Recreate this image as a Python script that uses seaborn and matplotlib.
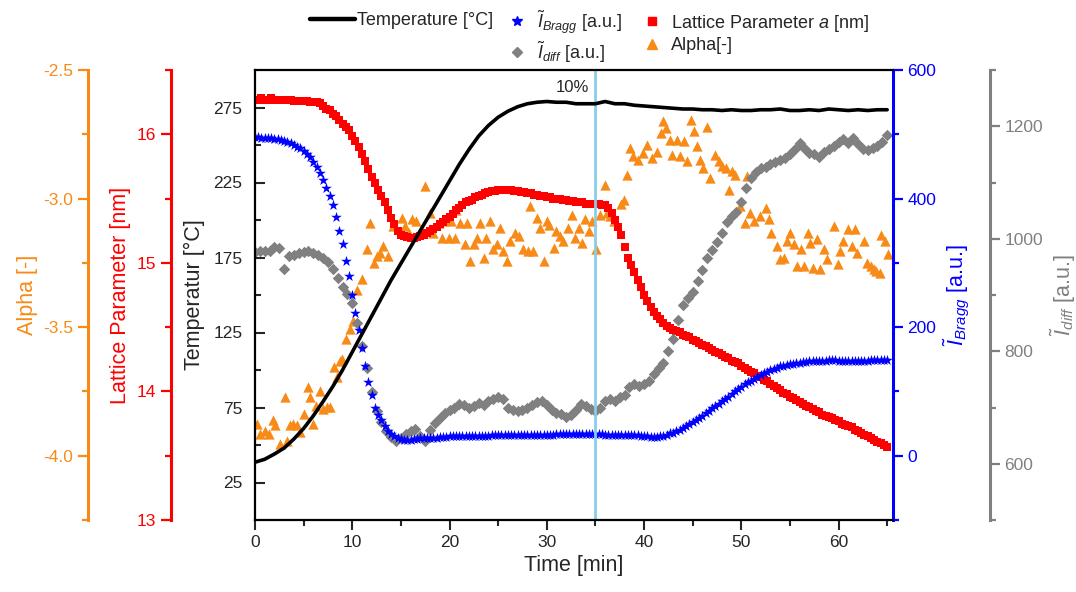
import numpy as np
import matplotlib
matplotlib.use("Agg")
import matplotlib.pyplot as plt
import seaborn as sns
from matplotlib.ticker import MultipleLocator, FixedLocator, FormatStrFormatter
from matplotlib.lines import Line2D

# ---------------- data ----------------
# furnace temperature, one reading per minute
time_temp = list(range(66))
temperature = [
    38.5, 40.5, 44, 48, 54, 61, 69.5, 79, 89, 100,
    112, 124, 136, 148, 160, 171, 182, 193, 204, 215,
    226, 237, 247, 256, 263, 268.5, 272.5, 275.5, 277.5, 278.5,
    279, 278.5, 278.5, 277.5, 277.5, 277.5, 279, 277.5, 277.5, 276.5,
    276, 275.5, 275, 274.5, 274, 274, 273.5, 273.5, 273, 273.5,
    273, 273, 273.5, 273.5, 274, 273, 273, 273.5, 273, 274,
    273.5, 273, 273.5, 273, 273.5, 273.5,
]

# lattice parameter and Bragg intensity, sampled every 20 s
time_fine = np.arange(196) / 3.0
lattice = [
    16.27, 16.27, 16.28, 16.27, 16.27, 16.28, 16.27, 16.27, 16.27, 16.27, 16.27, 16.27, 16.26, 16.26, 16.26,
    16.26, 16.26, 16.25, 16.25, 16.25, 16.24, 16.22, 16.20, 16.19, 16.16, 16.14, 16.11, 16.08, 16.06, 16.03,
    15.99, 15.95, 15.90, 15.85, 15.79, 15.73, 15.67, 15.62, 15.57, 15.52, 15.47, 15.41, 15.35, 15.30, 15.25,
    15.22, 15.21, 15.20, 15.19, 15.19, 15.20, 15.21, 15.22, 15.23, 15.25, 15.26, 15.28, 15.30, 15.32, 15.34,
    15.36, 15.38, 15.41, 15.43, 15.45, 15.47, 15.48, 15.49, 15.51, 15.52, 15.53, 15.54, 15.55, 15.56, 15.56,
    15.57, 15.57, 15.57, 15.57, 15.57, 15.56, 15.56, 15.55, 15.55, 15.54, 15.54, 15.53, 15.53, 15.52, 15.52,
    15.51, 15.51, 15.50, 15.50, 15.50, 15.49, 15.49, 15.48, 15.48, 15.47, 15.47, 15.47, 15.46, 15.46, 15.46,
    15.46, 15.46, 15.45, 15.45, 15.43, 15.39, 15.33, 15.28, 15.22, 15.12, 15.04, 14.98, 14.93, 14.87, 14.81,
    14.75, 14.70, 14.66, 14.62, 14.59, 14.56, 14.53, 14.51, 14.49, 14.48, 14.47, 14.46, 14.44, 14.43, 14.42,
    14.40, 14.39, 14.38, 14.36, 14.35, 14.34, 14.32, 14.31, 14.30, 14.28, 14.27, 14.26, 14.24, 14.23, 14.22,
    14.20, 14.18, 14.17, 14.15, 14.14, 14.12, 14.11, 14.09, 14.08, 14.06, 14.04, 14.03, 14.01, 13.99, 13.98,
    13.96, 13.95, 13.93, 13.92, 13.90, 13.89, 13.88, 13.86, 13.85, 13.84, 13.82, 13.81, 13.80, 13.79, 13.78,
    13.77, 13.75, 13.74, 13.73, 13.72, 13.70, 13.69, 13.68, 13.66, 13.65, 13.64, 13.62, 13.61, 13.60, 13.58,
    13.57,
]
bragg = [
    496, 496, 495, 495, 494, 494, 493, 492, 491, 490, 488, 486, 484, 481, 478,
    474, 470, 465, 457, 449, 440, 429, 417, 404, 390, 372, 350, 330, 303, 280,
    250, 222, 196, 168, 139, 115, 94, 75, 63, 55, 46, 39, 34, 30, 27,
    26, 25, 25, 25, 26, 26, 27, 27, 27, 28, 28, 28, 29, 29, 29,
    30, 30, 30, 30, 30, 31, 31, 31, 31, 31, 31, 31, 31, 32, 32,
    32, 32, 32, 32, 32, 32, 32, 32, 33, 33, 33, 33, 33, 33, 33,
    33, 33, 33, 34, 34, 34, 34, 34, 34, 34, 34, 34, 34, 34, 34,
    34, 34, 34, 33, 33, 33, 33, 33, 33, 32, 32, 32, 32, 32, 31,
    30, 30, 29, 29, 29, 30, 31, 33, 35, 36, 38, 40, 43, 46, 49,
    52, 55, 58, 62, 66, 70, 74, 78, 81, 85, 89, 92, 96, 100, 104,
    107, 111, 114, 117, 120, 123, 126, 129, 131, 133, 135, 137, 139, 140, 141,
    142, 143, 144, 145, 146, 146, 147, 147, 148, 148, 148, 148, 149, 149, 149,
    148, 148, 148, 148, 148, 148, 147, 147, 148, 148, 149, 149, 149, 149, 149,
    149,
]

# diffuse intensity, sampled every 30 s
time_diff = np.arange(131) * 0.5
diffuse = [
    976, 978, 979, 979, 986, 983, 947, 970, 972, 975,
    977, 979, 975, 971, 965, 959, 946, 930, 915, 902,
    886, 850, 810, 770, 727, 693, 675, 659, 648, 640,
    646, 653, 658, 662, 650, 641, 660, 672, 682, 690,
    695, 700, 706, 704, 700, 703, 708, 705, 712, 715,
    718, 716, 700, 695, 694, 696, 700, 705, 709, 712,
    704, 695, 690, 688, 684, 686, 696, 706, 702, 698,
    694, 700, 712, 715, 712, 718, 722, 736, 742, 738,
    742, 748, 760, 770, 780, 800, 822, 855, 882, 895,
    906, 925, 945, 965, 980, 995, 1010, 1030, 1040, 1048,
    1065, 1090, 1108, 1118, 1125, 1128, 1133, 1137, 1140, 1143,
    1150, 1160, 1170, 1162, 1153, 1150, 1146, 1155, 1160, 1165,
    1172, 1178, 1170, 1180, 1168, 1160, 1158, 1162, 1165, 1172,
    1185,
]

# fitted alpha values
time_alpha = [
    0.17, 0.5, 1.0, 1.4, 1.9, 2.1, 2.6, 3.1, 3.3, 3.6, 3.9, 4.3, 4.6, 5.0, 5.5,
    5.7, 6.0, 6.3, 6.7, 7.0, 7.4, 7.7, 8.1, 8.4, 8.7, 8.9, 9.4, 9.8, 10.1, 10.5,
    11.0, 11.5, 11.8, 12.2, 12.5, 12.9, 13.2, 13.7, 14.2, 15.1, 15.4, 15.8, 16.1, 16.6, 17.1,
    17.5, 18.0, 18.3, 18.9, 19.2, 19.4, 19.9, 20.2, 20.6, 20.7, 21.1, 21.6, 21.8, 22.1, 22.5,
    22.8, 23.1, 23.5, 23.8, 24.2, 24.5, 24.9, 25.2, 25.5, 25.9, 26.2, 26.7, 27.1, 27.6, 28.1,
    28.3, 28.6, 29.0, 29.3, 29.7, 30.0, 30.2, 30.7, 30.9, 31.4, 31.7, 32.2, 32.6, 32.9, 33.3,
    33.6, 33.9, 34.3, 34.6, 35.1, 35.5, 36.0, 36.2, 36.5, 36.9, 37.6, 37.9, 38.2, 38.6, 38.9,
    39.4, 39.9, 40.3, 40.8, 41.3, 41.7, 42.0, 42.3, 42.7, 42.9, 43.4, 43.7, 44.1, 44.4, 44.8,
    45.1, 45.4, 45.8, 46.1, 46.5, 46.8, 47.3, 47.7, 48.0, 48.4, 48.7, 49.0, 49.4, 49.9, 50.4,
    50.6, 50.9, 51.3, 51.9, 52.5, 52.8, 53.1, 53.7, 54.0, 54.4, 54.7, 55.0, 55.4, 55.7, 56.1,
    56.4, 56.9, 57.1, 57.4, 57.8, 58.1, 58.5, 58.8, 59.5, 59.9, 60.2, 60.5, 61.0, 61.4, 61.7,
    61.9, 62.6, 62.9, 63.3, 63.6, 63.9, 64.3, 64.4, 64.8, 65.1,
]
alpha = [
    -3.876, -3.915, -3.902, -3.915, -3.863, -3.882, -3.953, -3.773, -3.941, -3.882, -3.876, -3.882, -3.908, -3.837, -3.734,
    -3.773, -3.876, -3.805, -3.747, -3.818, -3.811, -3.811, -3.656, -3.695, -3.631, -3.624, -3.547, -3.508, -3.476, -3.355,
    -3.314, -3.198, -3.094, -3.249, -3.224, -3.210, -3.185, -3.224, -3.107, -3.075, -3.107, -3.133, -3.081, -3.088, -3.127,
    -2.952, -3.055, -3.133, -3.094, -3.152, -3.088, -3.152, -3.088, -3.152, -3.043, -3.094, -3.178, -3.094, -3.243, -3.178,
    -3.152, -3.094, -3.230, -3.152, -3.088, -3.198, -3.178, -3.114, -3.204, -3.243, -3.165, -3.133, -3.146, -3.198, -3.204,
    -3.030, -3.204, -3.075, -3.114, -3.243, -3.088, -3.101, -3.191, -3.127, -3.146, -3.165, -3.114, -3.062, -3.152, -3.114,
    -3.172, -3.081, -3.127, -3.088, -3.198, -3.062, -2.946, -3.055, -3.068, -3.088, -3.023, -3.004, -2.907, -2.803, -2.836,
    -2.849, -2.823, -2.791, -2.842, -2.817, -2.745, -2.700, -2.726, -2.771, -2.829, -2.771, -2.836, -2.778, -2.855, -2.694,
    -2.739, -2.797, -2.849, -2.881, -2.720, -2.920, -2.829, -2.855, -2.875, -2.881, -2.965, -2.894, -2.907, -3.030, -3.094,
    -2.913, -3.055, -3.088, -3.068, -3.036, -3.081, -3.133, -3.185, -3.236, -3.230, -3.165, -3.133, -3.178, -3.262, -3.198,
    -3.262, -3.133, -3.172, -3.269, -3.159, -3.275, -3.198, -3.236, -3.107, -3.256, -3.204, -3.165, -3.120, -3.185, -3.120,
    -3.210, -3.165, -3.249, -3.262, -3.275, -3.282, -3.288, -3.140, -3.165, -3.217,
]

marker_time = 35      # vertical reference line
marker_text = "10%"

# ---------------- style ----------------
sns.set_style("ticks")
plt.rcParams["font.family"] = ["Liberation Sans", "DejaVu Sans"]
plt.rcParams["mathtext.fontset"] = "custom"
plt.rcParams["mathtext.rm"] = "Liberation Sans"
plt.rcParams["mathtext.it"] = "Liberation Sans:italic"
plt.rcParams["mathtext.bf"] = "Liberation Sans:bold"

C_T = "black"
C_BRAGG = "#0000FF"
C_DIFF = "#808080"
C_LAT = "#FF0000"
C_ALPHA = "#F88A17"
C_VLINE = "#87CEEB"

TICK_FS = 12.5
LABEL_FS = 15.5
LEGEND_FS = 13

fig = plt.figure(figsize=(10.76, 5.92), dpi=100)
ax = fig.add_axes([255 / 1076, 1 - 520 / 592, 638 / 1076, 450 / 592])

ax_alpha = ax.twinx()
ax_lat = ax.twinx()
ax_diff = ax.twinx()
ax_bragg = ax.twinx()

# main axis drawn above the twins
ax.set_zorder(10)
ax.patch.set_visible(False)

# ---------------- series ----------------
sns.scatterplot(x=time_alpha, y=alpha, ax=ax_alpha, marker="^", s=55,
                color=C_ALPHA, linewidth=0, legend=False)
sns.scatterplot(x=time_diff, y=diffuse, ax=ax_diff, marker="D", s=34,
                color=C_DIFF, linewidth=0, legend=False)
sns.scatterplot(x=time_fine, y=lattice, ax=ax_lat, marker="s", s=28,
                color=C_LAT, linewidth=0, legend=False)
sns.scatterplot(x=time_fine, y=bragg, ax=ax_bragg, marker="*", s=65,
                color=C_BRAGG, linewidth=0, legend=False)
sns.lineplot(x=time_temp, y=temperature, ax=ax, color=C_T, lw=2.6)
ax.axvline(marker_time, color=C_VLINE, lw=2.0, zorder=0.5)
ax.text(32.6, 288.5, marker_text, ha="center", va="center", fontsize=12)

# ---------------- main axis ----------------
ax.set_xlim(0, 65.6)
ax.set_ylim(0, 300)
ax.xaxis.set_major_locator(MultipleLocator(10))
ax.xaxis.set_minor_locator(MultipleLocator(5))
ax.yaxis.set_major_locator(FixedLocator([25, 75, 125, 175, 225, 275]))
ax.yaxis.set_minor_locator(FixedLocator([50, 100, 150, 200, 250]))
ax.tick_params(axis="y", which="both", direction="in", labelsize=TICK_FS, width=1.5, pad=9)
ax.tick_params(axis="y", which="major", length=7)
ax.tick_params(axis="y", which="minor", length=4)
ax.tick_params(axis="x", which="both", direction="out", labelsize=TICK_FS, width=1.5)
ax.tick_params(axis="x", which="major", length=7)
ax.tick_params(axis="x", which="minor", length=4)
ax.set_xlabel("Time [min]", fontsize=LABEL_FS)
ax.set_ylabel("Temperatur [°C]", fontsize=LABEL_FS, labelpad=6)
for side in ["left", "bottom", "top"]:
    ax.spines[side].set_linewidth(1.6)
    ax.spines[side].set_color("black")
ax.spines["right"].set_visible(False)


def style_twin(a, side, pos, color, label, lo, hi, major, minor):
    for s in ["left", "right", "top", "bottom"]:
        a.spines[s].set_visible(False)
    a.spines[side].set_visible(True)
    a.spines[side].set_position(("axes", pos))
    a.spines[side].set_color(color)
    a.spines[side].set_linewidth(2.2)
    a.yaxis.set_ticks_position(side)
    a.yaxis.set_label_position(side)
    a.set_ylim(lo, hi)
    a.yaxis.set_major_locator(MultipleLocator(major))
    a.yaxis.set_minor_locator(MultipleLocator(minor))
    a.tick_params(axis="y", which="both", direction="out", colors=color,
                  labelsize=TICK_FS, width=1.6)
    a.tick_params(axis="y", which="major", length=7)
    a.tick_params(axis="y", which="minor", length=4)
    a.set_ylabel(label, color=color, fontsize=LABEL_FS)
    a.grid(False)


style_twin(ax_bragg, "right", 1.0, C_BRAGG, r"$\tilde{I}_{Bragg}$ [a.u.]", -100, 600, 200, 100)
style_twin(ax_diff, "right", 1.152, C_DIFF, r"$\tilde{I}_{diff}$ [a.u.]", 500, 1300, 200, 100)
style_twin(ax_lat, "left", -0.1317, C_LAT, "Lattice Parameter [nm]", 13, 16.5, 1, 0.5)
style_twin(ax_alpha, "left", -0.2618, C_ALPHA, "Alpha [-]", -4.25, -2.5, 0.5, 0.25)
ax_alpha.yaxis.set_major_formatter(FormatStrFormatter("%.1f"))

# ---------------- legends ----------------
# temperature line entry
fig.legend([Line2D([], [], color=C_T, lw=3.2)], ["Temperature [°C]"],
           loc="upper left", bbox_to_anchor=(310 / 1076, 1 - 12 / 592),
           frameon=False, fontsize=LEGEND_FS, handlelength=2.5,
           handletextpad=0.12, borderpad=0, borderaxespad=0)

# marker entries, two rows
marker_handles = [
    Line2D([], [], color=C_BRAGG, marker="*", linestyle="none", markersize=7.5),
    Line2D([], [], color=C_DIFF, marker="D", linestyle="none", markersize=5.5),
    Line2D([], [], color=C_LAT, marker="s", linestyle="none", markersize=6),
    Line2D([], [], color=C_ALPHA, marker="^", linestyle="none", markersize=7),
]
marker_labels = [
    r"$\tilde{I}_{Bragg}$ [a.u.]", r"$\tilde{I}_{diff}$ [a.u.]",
    r"Lattice Parameter $a$ [nm]", "Alpha[-]",
]
fig.legend(marker_handles, marker_labels, ncol=2, loc="upper left",
           bbox_to_anchor=(506 / 1076, 1 - 8 / 592), frameon=False,
           fontsize=LEGEND_FS, handlelength=1.2, handletextpad=0.5,
           columnspacing=1.05, labelspacing=0.2, borderpad=0,
           borderaxespad=0, numpoints=1)

fig.savefig("out.png", dpi=100, facecolor="white")
